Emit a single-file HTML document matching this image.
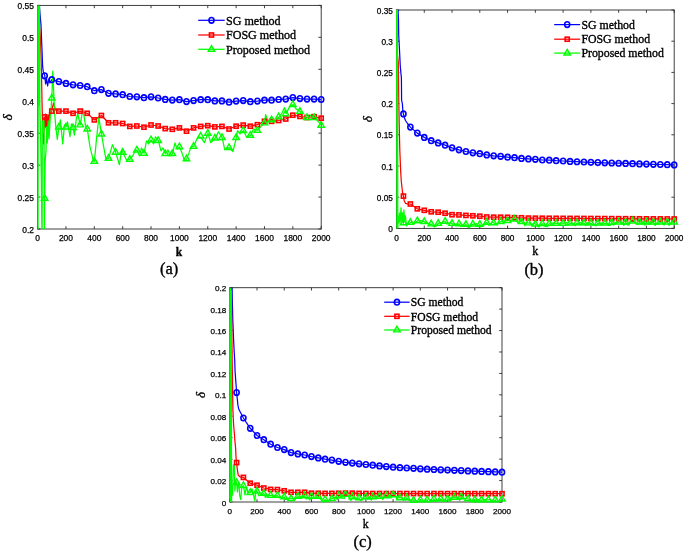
<!DOCTYPE html>
<html><head><meta charset="utf-8"><title>Figure</title>
<style>html,body{margin:0;padding:0;background:#fff;width:685px;height:553px;overflow:hidden}
svg{display:block;will-change:transform;font-family:"Liberation Sans",sans-serif}</style></head>
<body><svg width="685" height="553" viewBox="0 0 685 553"><defs><clipPath id="clipa"><rect x="37.1" y="5.4" width="284.6" height="223.6"/></clipPath><clipPath id="clipb"><rect x="396" y="10" width="278.7" height="218.4"/></clipPath><clipPath id="clipc"><rect x="229.3" y="287.7" width="273.2" height="214.3"/></clipPath></defs><rect width="100%" height="100%" fill="#fff"/><g><g fill="none" stroke="#2b2b2b" stroke-width="0.9"><rect x="37.6" y="5.4" width="283.6" height="223.6"/><path d="M37.6 229v-2.8M37.6 5.4v2.8M65.96 229v-2.8M65.96 5.4v2.8M94.32 229v-2.8M94.32 5.4v2.8M122.68 229v-2.8M122.68 5.4v2.8M151.04 229v-2.8M151.04 5.4v2.8M179.4 229v-2.8M179.4 5.4v2.8M207.76 229v-2.8M207.76 5.4v2.8M236.12 229v-2.8M236.12 5.4v2.8M264.48 229v-2.8M264.48 5.4v2.8M292.84 229v-2.8M292.84 5.4v2.8M321.2 229v-2.8M321.2 5.4v2.8M37.6 229h2.8M321.2 229h-2.8M37.6 197.06h2.8M321.2 197.06h-2.8M37.6 165.11h2.8M321.2 165.11h-2.8M37.6 133.17h2.8M321.2 133.17h-2.8M37.6 101.23h2.8M321.2 101.23h-2.8M37.6 69.29h2.8M321.2 69.29h-2.8M37.6 37.34h2.8M321.2 37.34h-2.8M37.6 5.4h2.8M321.2 5.4h-2.8"/></g>
<g clip-path="url(#clipa)" fill="none" stroke-width="1.25" stroke-linejoin="round">
<polyline stroke="#0000ff" points="39,0 40.1,15 41,25 41.5,38 42.2,55 42.6,66 43.3,72 44.7,75 45.6,84 46.6,79 47.6,86 48.8,79 50,83 51.78,79.7 58.87,81.6 65.96,83.4 73.05,84.8 80.14,85.5 87.23,86.7 94.32,90.7 101.41,89.6 108.5,93.3 115.59,93.9 122.68,94.7 129.77,96.5 136.86,96.8 143.95,97.7 151.04,96.8 158.13,98 165.22,99.4 172.31,100.1 179.4,99.7 186.49,101.6 193.58,100.6 200.67,99.7 207.76,99.7 214.85,100.9 221.94,100.9 229.03,102.2 236.12,101.1 243.21,100.6 250.3,101.7 257.39,101.1 264.48,100.2 271.57,100.2 278.66,99.5 285.75,99.1 292.84,97.6 299.93,98.6 307.02,99.1 314.11,99.1 321.2,99.5"/>
<polyline stroke="#ff0000" points="37.6,5.4 39,20 40.5,40 41.3,65 41.8,90 42.2,110 42.8,128 43.6,144 44.3,118 44.7,116.9 45.2,127 45.8,114 46.4,130 47,117 47.6,128 48.2,115 48.8,125 49.5,112 50.6,113 51.8,111.1 53.4,103 55.5,110 58.87,111.1 65.96,111.1 73.05,113.3 80.14,111.1 87.23,113.3 94.32,119.9 101.41,115.5 108.5,122.8 115.59,122.8 122.68,123.5 129.77,126.4 136.86,126 143.95,127.2 151.04,125 158.13,126 165.22,128.6 172.31,129.3 179.4,127.9 186.49,131.2 193.58,127.9 200.67,126.4 207.76,125.7 214.85,126.9 221.94,126.4 229.03,129 236.12,126.2 243.21,125.1 250.3,126.2 257.39,124.7 264.48,121.3 271.57,121.3 278.66,120.5 285.75,119 292.84,115.2 299.93,116.4 307.02,117.5 314.11,116.7 321.2,118.2"/>
<polyline stroke="#00ff00" points="37.8,0.9 38,250.9 38.4,0.9 38.9,104.9 39.4,0.9 39.8,104.9 40.6,135.9 41.4,180.9 42.1,250.9 42.3,120.9 43.2,132.9 44,120.9 44.4,250.9 44.7,198.4 45.2,160.9 46,150.9 46.6,126.9 47.3,142.9 48.2,120.9 49,138.9 50,121.9 51.8,98.1 52.8,71.1 54.6,112.9 56,128.9 57.3,139.3 58.9,127.2 60.4,119.9 62.7,144 64.5,124.9 66,127.1 67.5,121.9 70,136.6 71.5,123.9 73.1,127.7 74.4,135.2 76.3,118.9 77.8,113.5 80.2,125 82.9,108.8 85.9,128.4 87.3,129.1 90,146.9 93.4,160.9 94.4,161.4 96.5,138.9 98.8,117.7 101.5,134.1 103.5,145.9 105.9,158.9 108.6,158.3 112.4,144.7 115.7,152.4 119.4,164.7 121.8,149.4 122.8,152.4 126.5,160 129.9,159.4 133,155.3 135.5,150.4 137,150.1 139.5,155.9 141.5,147.9 144.1,153.3 146.5,140.9 148.5,143.9 151.2,139.9 153.5,143.9 155.5,136.9 158.3,140.6 161,150.9 163,147.9 165.4,153.7 168,149.9 170,155.9 172.5,153.7 175,142.9 177,148.9 179.6,146.9 182,152.9 184.5,160.9 186.7,158.9 189,152.9 191,146.9 193.8,146.4 196,140.9 198.5,136.9 200.9,137.4 204.4,142.7 208,133.3 210.8,142.7 215.1,138.2 218.5,131.9 222.2,137.6 224.7,149.6 229.3,147.7 232.9,151.5 236.4,137.6 237.5,130.6 240,133.9 243.5,130.6 246.5,136.9 250.6,135.4 253.5,128.9 257.7,130.3 260.5,126.9 264.8,123 265.6,114.5 268,121.9 271.9,119.9 275,121.9 279,116.9 281.5,113.9 284.5,107.6 286.1,113.8 289.5,106.9 293.2,104.6 296,108.9 300.3,111.5 303,118.9 307.4,117.6 310.5,114.9 314.5,117.6 317.5,120.9 321.6,125.3"/>
</g>
<g fill="none" stroke-width="1.6">
<g stroke="#0000ff"><ellipse cx="44.69" cy="75.8" rx="2.55" ry="2.8"/><ellipse cx="51.78" cy="79.7" rx="2.55" ry="2.8"/><ellipse cx="58.87" cy="81.6" rx="2.55" ry="2.8"/><ellipse cx="65.96" cy="83.4" rx="2.55" ry="2.8"/><ellipse cx="73.05" cy="84.8" rx="2.55" ry="2.8"/><ellipse cx="80.14" cy="85.5" rx="2.55" ry="2.8"/><ellipse cx="87.23" cy="86.7" rx="2.55" ry="2.8"/><ellipse cx="94.32" cy="90.7" rx="2.55" ry="2.8"/><ellipse cx="101.41" cy="89.6" rx="2.55" ry="2.8"/><ellipse cx="108.5" cy="93.3" rx="2.55" ry="2.8"/><ellipse cx="115.59" cy="93.9" rx="2.55" ry="2.8"/><ellipse cx="122.68" cy="94.7" rx="2.55" ry="2.8"/><ellipse cx="129.77" cy="96.5" rx="2.55" ry="2.8"/><ellipse cx="136.86" cy="96.8" rx="2.55" ry="2.8"/><ellipse cx="143.95" cy="97.7" rx="2.55" ry="2.8"/><ellipse cx="151.04" cy="96.8" rx="2.55" ry="2.8"/><ellipse cx="158.13" cy="98" rx="2.55" ry="2.8"/><ellipse cx="165.22" cy="99.4" rx="2.55" ry="2.8"/><ellipse cx="172.31" cy="100.1" rx="2.55" ry="2.8"/><ellipse cx="179.4" cy="99.7" rx="2.55" ry="2.8"/><ellipse cx="186.49" cy="101.6" rx="2.55" ry="2.8"/><ellipse cx="193.58" cy="100.6" rx="2.55" ry="2.8"/><ellipse cx="200.67" cy="99.7" rx="2.55" ry="2.8"/><ellipse cx="207.76" cy="99.7" rx="2.55" ry="2.8"/><ellipse cx="214.85" cy="100.9" rx="2.55" ry="2.8"/><ellipse cx="221.94" cy="100.9" rx="2.55" ry="2.8"/><ellipse cx="229.03" cy="102.2" rx="2.55" ry="2.8"/><ellipse cx="236.12" cy="101.1" rx="2.55" ry="2.8"/><ellipse cx="243.21" cy="100.6" rx="2.55" ry="2.8"/><ellipse cx="250.3" cy="101.7" rx="2.55" ry="2.8"/><ellipse cx="257.39" cy="101.1" rx="2.55" ry="2.8"/><ellipse cx="264.48" cy="100.2" rx="2.55" ry="2.8"/><ellipse cx="271.57" cy="100.2" rx="2.55" ry="2.8"/><ellipse cx="278.66" cy="99.5" rx="2.55" ry="2.8"/><ellipse cx="285.75" cy="99.1" rx="2.55" ry="2.8"/><ellipse cx="292.84" cy="97.6" rx="2.55" ry="2.8"/><ellipse cx="299.93" cy="98.6" rx="2.55" ry="2.8"/><ellipse cx="307.02" cy="99.1" rx="2.55" ry="2.8"/><ellipse cx="314.11" cy="99.1" rx="2.55" ry="2.8"/><ellipse cx="321.2" cy="99.5" rx="2.55" ry="2.8"/></g>
<g stroke="#ff0000"><rect x="42.64" y="114.85" width="4.1" height="4.1"/><rect x="49.73" y="109.05" width="4.1" height="4.1"/><rect x="56.82" y="109.05" width="4.1" height="4.1"/><rect x="63.91" y="109.05" width="4.1" height="4.1"/><rect x="71" y="111.25" width="4.1" height="4.1"/><rect x="78.09" y="109.05" width="4.1" height="4.1"/><rect x="85.18" y="111.25" width="4.1" height="4.1"/><rect x="92.27" y="117.85" width="4.1" height="4.1"/><rect x="99.36" y="113.45" width="4.1" height="4.1"/><rect x="106.45" y="120.75" width="4.1" height="4.1"/><rect x="113.54" y="120.75" width="4.1" height="4.1"/><rect x="120.63" y="121.45" width="4.1" height="4.1"/><rect x="127.72" y="124.35" width="4.1" height="4.1"/><rect x="134.81" y="123.95" width="4.1" height="4.1"/><rect x="141.9" y="125.15" width="4.1" height="4.1"/><rect x="148.99" y="122.95" width="4.1" height="4.1"/><rect x="156.08" y="123.95" width="4.1" height="4.1"/><rect x="163.17" y="126.55" width="4.1" height="4.1"/><rect x="170.26" y="127.25" width="4.1" height="4.1"/><rect x="177.35" y="125.85" width="4.1" height="4.1"/><rect x="184.44" y="129.15" width="4.1" height="4.1"/><rect x="191.53" y="125.85" width="4.1" height="4.1"/><rect x="198.62" y="124.35" width="4.1" height="4.1"/><rect x="205.71" y="123.65" width="4.1" height="4.1"/><rect x="212.8" y="124.85" width="4.1" height="4.1"/><rect x="219.89" y="124.35" width="4.1" height="4.1"/><rect x="226.98" y="126.95" width="4.1" height="4.1"/><rect x="234.07" y="124.15" width="4.1" height="4.1"/><rect x="241.16" y="123.05" width="4.1" height="4.1"/><rect x="248.25" y="124.15" width="4.1" height="4.1"/><rect x="255.34" y="122.65" width="4.1" height="4.1"/><rect x="262.43" y="119.25" width="4.1" height="4.1"/><rect x="269.52" y="119.25" width="4.1" height="4.1"/><rect x="276.61" y="118.45" width="4.1" height="4.1"/><rect x="283.7" y="116.95" width="4.1" height="4.1"/><rect x="290.79" y="113.15" width="4.1" height="4.1"/><rect x="297.88" y="114.35" width="4.1" height="4.1"/><rect x="304.97" y="115.45" width="4.1" height="4.1"/><rect x="312.06" y="114.65" width="4.1" height="4.1"/><rect x="319.15" y="116.15" width="4.1" height="4.1"/></g>
<g stroke="#00ff00" stroke-width="1.45"><path d="M44.69 194.7L47.89 200.25L41.49 200.25Z"/><path d="M51.78 94.4L54.98 99.95L48.58 99.95Z"/><path d="M58.87 123.5L62.07 129.05L55.67 129.05Z"/><path d="M65.96 123.4L69.16 128.95L62.76 128.95Z"/><path d="M73.05 124L76.25 129.55L69.85 129.55Z"/><path d="M80.14 121.3L83.34 126.85L76.94 126.85Z"/><path d="M87.23 125.4L90.43 130.95L84.03 130.95Z"/><path d="M94.32 157.7L97.52 163.25L91.12 163.25Z"/><path d="M101.41 130.4L104.61 135.95L98.21 135.95Z"/><path d="M108.5 154.6L111.7 160.15L105.3 160.15Z"/><path d="M115.59 148.7L118.79 154.25L112.39 154.25Z"/><path d="M122.68 148.7L125.88 154.25L119.48 154.25Z"/><path d="M129.77 155.7L132.97 161.25L126.57 161.25Z"/><path d="M136.86 146.4L140.06 151.95L133.66 151.95Z"/><path d="M143.95 149.6L147.15 155.15L140.75 155.15Z"/><path d="M151.04 136.2L154.24 141.75L147.84 141.75Z"/><path d="M158.13 136.9L161.33 142.45L154.93 142.45Z"/><path d="M165.22 150L168.42 155.55L162.02 155.55Z"/><path d="M172.31 150L175.51 155.55L169.11 155.55Z"/><path d="M179.4 143.2L182.6 148.75L176.2 148.75Z"/><path d="M186.49 155.2L189.69 160.75L183.29 160.75Z"/><path d="M193.58 142.7L196.78 148.25L190.38 148.25Z"/><path d="M200.67 132.5L203.87 138.05L197.47 138.05Z"/><path d="M207.76 129.6L210.96 135.15L204.56 135.15Z"/><path d="M214.85 134.5L218.05 140.05L211.65 140.05Z"/><path d="M221.94 133.9L225.14 139.45L218.74 139.45Z"/><path d="M229.03 144L232.23 149.55L225.83 149.55Z"/><path d="M236.12 133.9L239.32 139.45L232.92 139.45Z"/><path d="M243.21 126.9L246.41 132.45L240.01 132.45Z"/><path d="M250.3 131.7L253.5 137.25L247.1 137.25Z"/><path d="M257.39 126.6L260.59 132.15L254.19 132.15Z"/><path d="M264.48 119.3L267.68 124.85L261.28 124.85Z"/><path d="M271.57 116.2L274.77 121.75L268.37 121.75Z"/><path d="M278.66 113.2L281.86 118.75L275.46 118.75Z"/><path d="M285.75 110.1L288.95 115.65L282.55 115.65Z"/><path d="M292.84 100.9L296.04 106.45L289.64 106.45Z"/><path d="M299.93 107.8L303.13 113.35L296.73 113.35Z"/><path d="M307.02 113.9L310.22 119.45L303.82 119.45Z"/><path d="M314.11 113.9L317.31 119.45L310.91 119.45Z"/><path d="M321.2 121.6L324.4 127.15L318 127.15Z"/></g>
</g>
<g font-family="Liberation Sans" font-size="8.44" text-anchor="middle" fill="#000" stroke="#000" stroke-width="0.25"><text x="37.6" y="241.2">0</text><text x="65.96" y="241.2">200</text><text x="94.32" y="241.2">400</text><text x="122.68" y="241.2">600</text><text x="151.04" y="241.2">800</text><text x="179.4" y="241.2">1000</text><text x="207.76" y="241.2">1200</text><text x="236.12" y="241.2">1400</text><text x="264.48" y="241.2">1600</text><text x="292.84" y="241.2">1800</text><text x="321.2" y="241.2">2000</text></g>
<g font-family="Liberation Sans" font-size="8.44" text-anchor="end" fill="#000" stroke="#000" stroke-width="0.25"><text x="34" y="232.5">0.2</text><text x="34" y="200.56">0.25</text><text x="34" y="168.61">0.3</text><text x="34" y="136.67">0.35</text><text x="34" y="104.73">0.4</text><text x="34" y="72.79">0.45</text><text x="34" y="40.84">0.5</text><text x="34" y="8.9">0.55</text></g>
<line x1="198.2" y1="20.3" x2="224.66" y2="20.3" stroke="#0000ff" stroke-width="1.25"/><g fill="none" stroke="#0000ff" stroke-width="1.6"><ellipse cx="211.48" cy="20.3" rx="2.55" ry="2.8"/></g><text x="225.96" y="24.5" font-family="Liberation Serif" font-size="12.08" fill="#000" stroke="#000" stroke-width="0.35">SG method</text><line x1="198.2" y1="35" x2="224.66" y2="35" stroke="#ff0000" stroke-width="1.25"/><g fill="none" stroke="#ff0000" stroke-width="1.6"><rect x="209.43" y="32.95" width="4.1" height="4.1"/></g><text x="225.96" y="39.2" font-family="Liberation Serif" font-size="12.08" fill="#000" stroke="#000" stroke-width="0.35">FOSG method</text><line x1="198.2" y1="49.3" x2="224.66" y2="49.3" stroke="#00ff00" stroke-width="1.25"/><g fill="none" stroke="#00ff00" stroke-width="1.45"><path d="M211.48 45.6L214.68 51.15L208.28 51.15Z"/></g><text x="225.96" y="53.5" font-family="Liberation Serif" font-size="12.08" fill="#000" stroke="#000" stroke-width="0.35">Proposed method</text>
<text x="179" y="255.5" font-family="Liberation Serif" font-size="11.48" font-weight="bold" text-anchor="middle" fill="#000" stroke="#000" stroke-width="0.35">k</text>
<text transform="translate(7.2 117.3) rotate(-90)" font-family="Liberation Serif" font-style="italic" font-size="13.48" text-anchor="middle" fill="#000" stroke="#000" stroke-width="0.35" y="4.5">&#948;</text>
<text x="169.2" y="274.2" font-family="Liberation Serif" font-size="16.5" text-anchor="middle" fill="#000" stroke="#000" stroke-width="0.35">(a)</text></g>
<g><g fill="none" stroke="#2b2b2b" stroke-width="0.9"><rect x="396.5" y="10" width="277.7" height="218.4"/><path d="M396.5 228.4v-2.8M396.5 10v2.8M424.27 228.4v-2.8M424.27 10v2.8M452.04 228.4v-2.8M452.04 10v2.8M479.81 228.4v-2.8M479.81 10v2.8M507.58 228.4v-2.8M507.58 10v2.8M535.35 228.4v-2.8M535.35 10v2.8M563.12 228.4v-2.8M563.12 10v2.8M590.89 228.4v-2.8M590.89 10v2.8M618.66 228.4v-2.8M618.66 10v2.8M646.43 228.4v-2.8M646.43 10v2.8M674.2 228.4v-2.8M674.2 10v2.8M396.5 228.4h2.8M674.2 228.4h-2.8M396.5 197.2h2.8M674.2 197.2h-2.8M396.5 166h2.8M674.2 166h-2.8M396.5 134.8h2.8M674.2 134.8h-2.8M396.5 103.6h2.8M674.2 103.6h-2.8M396.5 72.4h2.8M674.2 72.4h-2.8M396.5 41.2h2.8M674.2 41.2h-2.8M396.5 10h2.8M674.2 10h-2.8"/></g>
<g clip-path="url(#clipb)" fill="none" stroke-width="1.25" stroke-linejoin="round">
<polyline stroke="#0000ff" points="397.6,0 398.5,20 398.7,35 399.5,50 400.2,65 400.8,72 401.4,78 401.6,100 402.4,104 402.8,110 403.4,113.9 404.5,118 405.5,120.5 407.5,123.5 410.38,127.1 417.33,133.1 424.27,137.4 431.21,140.7 438.16,142.9 445.1,145.2 452.04,147.8 458.98,149.8 465.93,151.5 472.87,152.8 479.81,153.7 486.75,154.9 493.7,155.8 500.64,156.3 507.58,157.2 514.52,157.7 521.47,158.4 528.41,158.9 535.35,159.3 542.29,160 549.24,160.2 556.18,160.7 563.12,161 570.06,161.42 577,161.74 583.95,162.02 590.89,162.29 597.83,162.54 604.78,162.78 611.72,163.01 618.66,163.24 625.6,163.46 632.55,163.68 639.49,163.89 646.43,164.1 653.37,164.3 660.32,164.5 667.26,164.7 674.2,164.9"/>
<polyline stroke="#ff0000" points="396.6,0 396.8,50 398.3,62 398.7,95 399.2,125 399.8,150 400.6,170 401.3,181.5 402.5,192 403.4,196.1 404.3,201 405.5,203.3 407.5,203.8 410.38,204 417.33,208.8 424.27,210.3 431.21,211.8 438.16,212.2 445.1,213.2 452.04,214.7 458.98,214.9 465.93,215.4 472.87,215.8 479.81,216.2 486.75,217 493.7,217.2 500.64,217.2 507.58,217.3 514.52,217.7 521.47,217.8 528.41,218.1 535.35,218.2 542.29,218.24 549.24,218.28 556.18,218.32 563.12,218.36 570.06,218.4 577,218.44 583.95,218.48 590.89,218.52 597.83,218.56 604.78,218.6 611.72,218.64 618.66,218.68 625.6,218.72 632.55,218.76 639.49,218.8 646.43,218.84 653.37,218.88 660.32,218.92 667.26,218.96 674.2,219"/>
<polyline stroke="#00ff00" points="396.7,0.9 396.9,229.3 397.4,5.9 397.8,229.3 398.3,215.9 398.9,222.9 399.5,212.9 400.2,221.9 401,207.9 401.8,222.9 402.6,212.9 403.4,223.4 403.9,209.9 404.6,219.9 405.4,215.9 406.5,225.9 408,223.9 410.3,222.9 410.38,222.5 411.84,222.66 413.51,223.63 415.48,222.75 417.33,220.9 419.07,220.54 420.75,220.66 422.21,220.99 424.27,221.7 426.27,223.26 427.52,222.57 429.84,225.26 431.21,224 432.87,225.45 434.32,226.95 436.25,226.28 438.16,223.3 439.58,222.63 441.88,222.85 443.43,221.83 445.1,221.4 446.73,223.81 448.22,223.95 450.07,222.43 452.04,223.5 453.72,225.63 455.58,224.17 457.09,224.83 458.98,223.8 460.88,226.51 462.51,224.38 464.49,225.73 465.93,224.5 467.49,226.69 469.09,227.67 471.34,225.23 472.87,224.2 474.59,224.06 476.47,223.61 478.13,226.69 479.81,224.3 481.4,226.73 483.36,225.52 484.98,224.59 486.75,222.5 488.84,225.3 490.36,223.84 492.12,222.18 493.7,222.8 495.83,224.44 496.99,224.9 499.04,222.8 500.64,221.7 502.34,220.74 503.8,221.11 506.06,220.4 507.58,220.7 509.11,220.07 511.35,220.79 512.75,219.11 514.52,219.2 516.56,221.33 518.28,223.09 519.66,221.44 521.47,221.7 523.51,222.73 524.66,225.57 526.46,222.62 528.41,223 530.13,223.46 531.69,225.22 533.55,223.04 535.35,224.1 537.14,224.75 538.97,227.1 540.65,225.17 542.29,223.7 543.67,225.69 545.99,226.58 547.74,226.42 549.24,223.5 550.89,224.3 552.81,223.03 554.1,222.81 556.18,223.3 557.64,223.38 559.29,223.93 561.11,222.5 563.12,223.3 564.75,222.88 566.89,222.51 568.05,224.93 570.06,223.1 571.68,223.31 573.23,223.73 575.66,225.72 577,222.9 578.73,224.06 580.16,222.46 582.02,223.54 583.95,222.9 585.41,225.63 587.78,222.3 588.87,224.47 590.89,223.1 592.25,224.58 594.74,224.52 596.25,225.93 597.83,223.1 599.46,223.4 601.52,223 603.26,224.54 604.78,223.1 606.29,223.53 608.63,225.41 610.23,225.43 611.72,222.5 613.65,225.06 615.2,222.5 616.55,222.97 618.66,222.2 620.22,221.52 622.29,222.49 623.82,225.42 625.6,222.2 627.73,225.06 628.97,224.86 630.59,221.5 632.55,221.1 634.04,221.38 636.34,223.42 637.74,224.58 639.49,222.1 641.46,224.04 643.09,221.66 644.92,225.12 646.43,222.1 648.15,224.48 650.13,222.1 651.88,222.77 653.37,222.2 655.02,225.46 657.2,223.04 658.32,224.37 660.32,222.1 661.77,221.83 664.03,225.1 665.78,221.91 667.26,222.1 669.12,225.44 670.77,222.82 672.08,221.93 674.2,222.2"/>
</g>
<g fill="none" stroke-width="1.6">
<g stroke="#0000ff"><ellipse cx="403.44" cy="113.9" rx="2.55" ry="2.8"/><ellipse cx="410.38" cy="127.1" rx="2.55" ry="2.8"/><ellipse cx="417.33" cy="133.1" rx="2.55" ry="2.8"/><ellipse cx="424.27" cy="137.4" rx="2.55" ry="2.8"/><ellipse cx="431.21" cy="140.7" rx="2.55" ry="2.8"/><ellipse cx="438.16" cy="142.9" rx="2.55" ry="2.8"/><ellipse cx="445.1" cy="145.2" rx="2.55" ry="2.8"/><ellipse cx="452.04" cy="147.8" rx="2.55" ry="2.8"/><ellipse cx="458.98" cy="149.8" rx="2.55" ry="2.8"/><ellipse cx="465.93" cy="151.5" rx="2.55" ry="2.8"/><ellipse cx="472.87" cy="152.8" rx="2.55" ry="2.8"/><ellipse cx="479.81" cy="153.7" rx="2.55" ry="2.8"/><ellipse cx="486.75" cy="154.9" rx="2.55" ry="2.8"/><ellipse cx="493.7" cy="155.8" rx="2.55" ry="2.8"/><ellipse cx="500.64" cy="156.3" rx="2.55" ry="2.8"/><ellipse cx="507.58" cy="157.2" rx="2.55" ry="2.8"/><ellipse cx="514.52" cy="157.7" rx="2.55" ry="2.8"/><ellipse cx="521.47" cy="158.4" rx="2.55" ry="2.8"/><ellipse cx="528.41" cy="158.9" rx="2.55" ry="2.8"/><ellipse cx="535.35" cy="159.3" rx="2.55" ry="2.8"/><ellipse cx="542.29" cy="160" rx="2.55" ry="2.8"/><ellipse cx="549.24" cy="160.2" rx="2.55" ry="2.8"/><ellipse cx="556.18" cy="160.7" rx="2.55" ry="2.8"/><ellipse cx="563.12" cy="161" rx="2.55" ry="2.8"/><ellipse cx="570.06" cy="161.42" rx="2.55" ry="2.8"/><ellipse cx="577" cy="161.74" rx="2.55" ry="2.8"/><ellipse cx="583.95" cy="162.02" rx="2.55" ry="2.8"/><ellipse cx="590.89" cy="162.29" rx="2.55" ry="2.8"/><ellipse cx="597.83" cy="162.54" rx="2.55" ry="2.8"/><ellipse cx="604.78" cy="162.78" rx="2.55" ry="2.8"/><ellipse cx="611.72" cy="163.01" rx="2.55" ry="2.8"/><ellipse cx="618.66" cy="163.24" rx="2.55" ry="2.8"/><ellipse cx="625.6" cy="163.46" rx="2.55" ry="2.8"/><ellipse cx="632.55" cy="163.68" rx="2.55" ry="2.8"/><ellipse cx="639.49" cy="163.89" rx="2.55" ry="2.8"/><ellipse cx="646.43" cy="164.1" rx="2.55" ry="2.8"/><ellipse cx="653.37" cy="164.3" rx="2.55" ry="2.8"/><ellipse cx="660.32" cy="164.5" rx="2.55" ry="2.8"/><ellipse cx="667.26" cy="164.7" rx="2.55" ry="2.8"/><ellipse cx="674.2" cy="164.9" rx="2.55" ry="2.8"/></g>
<g stroke="#ff0000"><rect x="401.39" y="194.05" width="4.1" height="4.1"/><rect x="408.33" y="201.95" width="4.1" height="4.1"/><rect x="415.28" y="206.75" width="4.1" height="4.1"/><rect x="422.22" y="208.25" width="4.1" height="4.1"/><rect x="429.16" y="209.75" width="4.1" height="4.1"/><rect x="436.11" y="210.15" width="4.1" height="4.1"/><rect x="443.05" y="211.15" width="4.1" height="4.1"/><rect x="449.99" y="212.65" width="4.1" height="4.1"/><rect x="456.93" y="212.85" width="4.1" height="4.1"/><rect x="463.88" y="213.35" width="4.1" height="4.1"/><rect x="470.82" y="213.75" width="4.1" height="4.1"/><rect x="477.76" y="214.15" width="4.1" height="4.1"/><rect x="484.7" y="214.95" width="4.1" height="4.1"/><rect x="491.65" y="215.15" width="4.1" height="4.1"/><rect x="498.59" y="215.15" width="4.1" height="4.1"/><rect x="505.53" y="215.25" width="4.1" height="4.1"/><rect x="512.47" y="215.65" width="4.1" height="4.1"/><rect x="519.42" y="215.75" width="4.1" height="4.1"/><rect x="526.36" y="216.05" width="4.1" height="4.1"/><rect x="533.3" y="216.15" width="4.1" height="4.1"/><rect x="540.24" y="216.19" width="4.1" height="4.1"/><rect x="547.19" y="216.23" width="4.1" height="4.1"/><rect x="554.13" y="216.27" width="4.1" height="4.1"/><rect x="561.07" y="216.31" width="4.1" height="4.1"/><rect x="568.01" y="216.35" width="4.1" height="4.1"/><rect x="574.96" y="216.39" width="4.1" height="4.1"/><rect x="581.9" y="216.43" width="4.1" height="4.1"/><rect x="588.84" y="216.47" width="4.1" height="4.1"/><rect x="595.78" y="216.51" width="4.1" height="4.1"/><rect x="602.73" y="216.55" width="4.1" height="4.1"/><rect x="609.67" y="216.59" width="4.1" height="4.1"/><rect x="616.61" y="216.63" width="4.1" height="4.1"/><rect x="623.55" y="216.67" width="4.1" height="4.1"/><rect x="630.5" y="216.71" width="4.1" height="4.1"/><rect x="637.44" y="216.75" width="4.1" height="4.1"/><rect x="644.38" y="216.79" width="4.1" height="4.1"/><rect x="651.32" y="216.83" width="4.1" height="4.1"/><rect x="658.27" y="216.87" width="4.1" height="4.1"/><rect x="665.21" y="216.91" width="4.1" height="4.1"/><rect x="672.15" y="216.95" width="4.1" height="4.1"/></g>
<g stroke="#00ff00" stroke-width="1.45"><path d="M403.44 219.2L406.64 224.75L400.24 224.75Z"/><path d="M410.38 218.8L413.58 224.35L407.19 224.35Z"/><path d="M417.33 217.2L420.53 222.75L414.13 222.75Z"/><path d="M424.27 218L427.47 223.55L421.07 223.55Z"/><path d="M431.21 220.3L434.41 225.85L428.01 225.85Z"/><path d="M438.16 219.6L441.36 225.15L434.96 225.15Z"/><path d="M445.1 217.7L448.3 223.25L441.9 223.25Z"/><path d="M452.04 219.8L455.24 225.35L448.84 225.35Z"/><path d="M458.98 220.1L462.18 225.65L455.78 225.65Z"/><path d="M465.93 220.8L469.12 226.35L462.73 226.35Z"/><path d="M472.87 220.5L476.07 226.05L469.67 226.05Z"/><path d="M479.81 220.6L483.01 226.15L476.61 226.15Z"/><path d="M486.75 218.8L489.95 224.35L483.55 224.35Z"/><path d="M493.7 219.1L496.9 224.65L490.5 224.65Z"/><path d="M500.64 218L503.84 223.55L497.44 223.55Z"/><path d="M507.58 217L510.78 222.55L504.38 222.55Z"/><path d="M514.52 215.5L517.72 221.05L511.32 221.05Z"/><path d="M521.47 218L524.67 223.55L518.26 223.55Z"/><path d="M528.41 219.3L531.61 224.85L525.21 224.85Z"/><path d="M535.35 220.4L538.55 225.95L532.15 225.95Z"/><path d="M542.29 220L545.49 225.55L539.09 225.55Z"/><path d="M549.24 219.8L552.44 225.35L546.03 225.35Z"/><path d="M556.18 219.6L559.38 225.15L552.98 225.15Z"/><path d="M563.12 219.6L566.32 225.15L559.92 225.15Z"/><path d="M570.06 219.4L573.26 224.95L566.86 224.95Z"/><path d="M577 219.2L580.21 224.75L573.8 224.75Z"/><path d="M583.95 219.2L587.15 224.75L580.75 224.75Z"/><path d="M590.89 219.4L594.09 224.95L587.69 224.95Z"/><path d="M597.83 219.4L601.03 224.95L594.63 224.95Z"/><path d="M604.78 219.4L607.98 224.95L601.58 224.95Z"/><path d="M611.72 218.8L614.92 224.35L608.52 224.35Z"/><path d="M618.66 218.5L621.86 224.05L615.46 224.05Z"/><path d="M625.6 218.5L628.8 224.05L622.4 224.05Z"/><path d="M632.55 217.4L635.75 222.95L629.35 222.95Z"/><path d="M639.49 218.4L642.69 223.95L636.29 223.95Z"/><path d="M646.43 218.4L649.63 223.95L643.23 223.95Z"/><path d="M653.37 218.5L656.57 224.05L650.17 224.05Z"/><path d="M660.32 218.4L663.52 223.95L657.12 223.95Z"/><path d="M667.26 218.4L670.46 223.95L664.06 223.95Z"/><path d="M674.2 218.5L677.4 224.05L671 224.05Z"/></g>
</g>
<g font-family="Liberation Sans" font-size="8.26" text-anchor="middle" fill="#000" stroke="#000" stroke-width="0.25"><text x="396.5" y="241.3">0</text><text x="424.27" y="241.3">200</text><text x="452.04" y="241.3">400</text><text x="479.81" y="241.3">600</text><text x="507.58" y="241.3">800</text><text x="535.35" y="241.3">1000</text><text x="563.12" y="241.3">1200</text><text x="590.89" y="241.3">1400</text><text x="618.66" y="241.3">1600</text><text x="646.43" y="241.3">1800</text><text x="674.2" y="241.3">2000</text></g>
<g font-family="Liberation Sans" font-size="8.26" text-anchor="end" fill="#000" stroke="#000" stroke-width="0.25"><text x="392.9" y="231.9">0</text><text x="392.9" y="200.7">0.05</text><text x="392.9" y="169.5">0.1</text><text x="392.9" y="138.3">0.15</text><text x="392.9" y="107.1">0.2</text><text x="392.9" y="75.9">0.25</text><text x="392.9" y="44.7">0.3</text><text x="392.9" y="13.5">0.35</text></g>
<line x1="554.2" y1="24.6" x2="580.11" y2="24.6" stroke="#0000ff" stroke-width="1.25"/><g fill="none" stroke="#0000ff" stroke-width="1.6"><ellipse cx="567.2" cy="24.6" rx="2.55" ry="2.8"/></g><text x="581.38" y="28.8" font-family="Liberation Serif" font-size="11.83" fill="#000" stroke="#000" stroke-width="0.35">SG method</text><line x1="554.2" y1="39.2" x2="580.11" y2="39.2" stroke="#ff0000" stroke-width="1.25"/><g fill="none" stroke="#ff0000" stroke-width="1.6"><rect x="565.15" y="37.15" width="4.1" height="4.1"/></g><text x="581.38" y="43.4" font-family="Liberation Serif" font-size="11.83" fill="#000" stroke="#000" stroke-width="0.35">FOSG method</text><line x1="554.2" y1="53.1" x2="580.11" y2="53.1" stroke="#00ff00" stroke-width="1.25"/><g fill="none" stroke="#00ff00" stroke-width="1.45"><path d="M567.2 49.4L570.4 54.95L564 54.95Z"/></g><text x="581.38" y="57.3" font-family="Liberation Serif" font-size="11.83" fill="#000" stroke="#000" stroke-width="0.35">Proposed method</text>
<text x="535.2" y="254.8" font-family="Liberation Serif" font-size="12.03"  text-anchor="middle" fill="#000" stroke="#000" stroke-width="0.35">k</text>
<text transform="translate(367.2 119.3) rotate(-90)" font-family="Liberation Serif" font-style="italic" font-size="13.2" text-anchor="middle" fill="#000" stroke="#000" stroke-width="0.35" y="4.5">&#948;</text>
<text x="534" y="274.5" font-family="Liberation Serif" font-size="16.5" text-anchor="middle" fill="#000" stroke="#000" stroke-width="0.35">(b)</text></g>
<g><g fill="none" stroke="#2b2b2b" stroke-width="0.9"><rect x="229.8" y="287.7" width="272.2" height="214.3"/><path d="M229.8 502v-2.8M229.8 287.7v2.8M257.02 502v-2.8M257.02 287.7v2.8M284.24 502v-2.8M284.24 287.7v2.8M311.46 502v-2.8M311.46 287.7v2.8M338.68 502v-2.8M338.68 287.7v2.8M365.9 502v-2.8M365.9 287.7v2.8M393.12 502v-2.8M393.12 287.7v2.8M420.34 502v-2.8M420.34 287.7v2.8M447.56 502v-2.8M447.56 287.7v2.8M474.78 502v-2.8M474.78 287.7v2.8M502 502v-2.8M502 287.7v2.8M229.8 502h2.8M502 502h-2.8M229.8 480.57h2.8M502 480.57h-2.8M229.8 459.14h2.8M502 459.14h-2.8M229.8 437.71h2.8M502 437.71h-2.8M229.8 416.28h2.8M502 416.28h-2.8M229.8 394.85h2.8M502 394.85h-2.8M229.8 373.42h2.8M502 373.42h-2.8M229.8 351.99h2.8M502 351.99h-2.8M229.8 330.56h2.8M502 330.56h-2.8M229.8 309.13h2.8M502 309.13h-2.8M229.8 287.7h2.8M502 287.7h-2.8"/></g>
<g clip-path="url(#clipc)" fill="none" stroke-width="1.25" stroke-linejoin="round">
<polyline stroke="#0000ff" points="232,280 232.3,300 232.8,320 233.6,340 234.2,352 234.7,360 235.1,372 235.7,380 236.3,388 236.6,392.6 237.4,400 237.9,405 238.7,409 240.5,412.5 243.4,418 250.22,428.3 257.02,435.5 263.82,439.7 270.63,444.2 277.44,447.5 284.24,449.6 291.05,452.6 297.85,453.9 304.66,455 311.46,456.6 318.26,457.9 325.07,459.2 331.88,460.1 338.68,461.3 345.49,462.3 352.29,463.1 359.1,463.8 365.9,464.5 372.71,465.2 379.51,465.9 386.31,466.6 393.12,467.2 399.93,467.7 406.73,468 413.54,468.3 420.34,468.8 427.14,469.16 433.95,469.48 440.75,469.78 447.56,470.06 454.37,470.35 461.17,470.62 467.98,470.89 474.78,471.16 481.59,471.42 488.39,471.69 495.19,471.94 502,472.2"/>
<polyline stroke="#ff0000" points="231.3,280 231.6,310 231.9,340 232.3,370 232.6,390 232.9,410 233.6,425 234.4,434 234.8,440 235.6,448 235.9,455 236.2,460 236.6,462.6 237.4,470 238.3,475.3 240,476.8 243.41,477.4 250.22,483.2 257.02,485.2 263.82,488 270.63,489.4 277.44,489.6 284.24,490.8 291.05,492.3 297.85,492.3 304.66,492.3 311.46,493.2 318.26,493.3 325.07,493.4 331.88,493.4 338.68,493.3 345.49,493.1 352.29,493.2 359.1,493.4 365.9,493.5 372.71,493.51 379.51,493.52 386.31,493.53 393.12,493.54 399.93,493.55 406.73,493.56 413.54,493.57 420.34,493.58 427.14,493.59 433.95,493.6 440.75,493.61 447.56,493.62 454.37,493.63 461.17,493.64 467.98,493.65 474.78,493.66 481.59,493.67 488.39,493.68 495.19,493.69 502,493.7"/>
<polyline stroke="#00ff00" points="229.9,280.9 230.1,502.9 230.6,280.9 230.9,502.9 231.3,290.9 231.5,502.9 232,485.9 232.6,494.9 233.4,464.9 234.3,465.4 234.9,490.9 235.6,480.9 236.6,482.6 237.4,491.9 238.3,483.9 238.9,481.9 239.6,494.9 240.7,499.7 241.8,486.9 243.4,485.6 245,494.9 246.5,486.9 248,492.9 250.2,492.6 252,488.9 253.5,494.9 254.8,500.9 256,489.9 257,491.2 258.84,495.84 260.77,494.32 262.42,494.46 263.82,493.5 265.3,497.33 267.06,495.08 269,495.48 270.63,495.3 272.27,496.02 274.36,495.42 275.7,496.46 277.44,495.3 279.46,497.97 281.17,497.63 282.56,498.43 284.24,497 285.56,499.36 287.39,499.37 289.58,497.72 291.05,498.6 292.73,498.34 294.49,500.36 296.16,497.91 297.85,496.3 299.78,498.29 301.3,496.05 302.78,496.59 304.66,495.8 306.36,499.05 308.27,498.19 309.71,499.96 311.46,496.3 313.17,498.68 315.02,498.21 316.59,497.93 318.26,496.3 320.32,498.87 321.97,500.74 323.18,502.7 325.07,499.6 327.13,501.48 328.18,502.55 330.13,498.92 331.88,498.6 333.37,497.77 335.41,497.09 337.3,499.76 338.68,495.9 340.55,495.78 341.8,497.8 344.16,498.5 345.49,494.5 347.55,495.63 348.88,497.07 350.85,500.45 352.29,496.9 353.94,497.41 355.56,499.32 357.25,498.07 359.1,497.9 360.41,500.54 362.45,499.5 364.06,496.73 365.9,496.9 367.61,499.33 369.69,496.7 371.38,500.11 372.71,496.9 374.22,496.77 376.33,496.34 377.51,497.3 379.51,496.4 381.54,497.76 382.72,499.5 384.95,496.23 386.31,495.9 388.18,497.83 389.36,495.32 391.36,497.88 393.12,494.9 395.17,495.49 396.76,498.88 398.51,497.04 399.93,497.9 401.92,497.71 403.2,499.53 405.37,500 406.73,497.9 408.13,499.28 409.92,501.13 411.56,499.79 413.54,500.4 415,500.01 416.78,501.12 418.47,502.9 420.34,499.9 421.78,501.75 423.36,501.03 425.06,500.58 427.14,499.9 428.89,502.6 430.53,499.79 431.93,502.9 433.95,498.9 435.6,502.25 437.62,500.73 439.06,500.25 440.75,498.9 442.84,501.66 444.42,500.06 445.97,501.8 447.56,499 449.14,500 450.67,497.96 452.86,497.63 454.37,497.4 455.8,497.98 458.04,497.05 459.61,500.62 461.17,496.9 462.67,498.2 464.54,498.73 466.23,498.57 467.98,498.8 470.05,499.79 471.42,502.9 473.45,500.2 474.78,499.8 476.37,500.75 478.09,499.31 479.89,501.53 481.59,499.8 483.29,500.24 484.8,499.32 486.61,499.72 488.39,499.8 489.71,499.5 491.58,500.73 493.52,502.05 495.19,499.8 497.02,502.68 498.9,502.37 500.16,500.68 502,499.2"/>
</g>
<g fill="none" stroke-width="1.6">
<g stroke="#0000ff"><ellipse cx="236.61" cy="392.6" rx="2.55" ry="2.8"/><ellipse cx="243.41" cy="418" rx="2.55" ry="2.8"/><ellipse cx="250.22" cy="428.3" rx="2.55" ry="2.8"/><ellipse cx="257.02" cy="435.5" rx="2.55" ry="2.8"/><ellipse cx="263.82" cy="439.7" rx="2.55" ry="2.8"/><ellipse cx="270.63" cy="444.2" rx="2.55" ry="2.8"/><ellipse cx="277.44" cy="447.5" rx="2.55" ry="2.8"/><ellipse cx="284.24" cy="449.6" rx="2.55" ry="2.8"/><ellipse cx="291.05" cy="452.6" rx="2.55" ry="2.8"/><ellipse cx="297.85" cy="453.9" rx="2.55" ry="2.8"/><ellipse cx="304.66" cy="455" rx="2.55" ry="2.8"/><ellipse cx="311.46" cy="456.6" rx="2.55" ry="2.8"/><ellipse cx="318.26" cy="457.9" rx="2.55" ry="2.8"/><ellipse cx="325.07" cy="459.2" rx="2.55" ry="2.8"/><ellipse cx="331.88" cy="460.1" rx="2.55" ry="2.8"/><ellipse cx="338.68" cy="461.3" rx="2.55" ry="2.8"/><ellipse cx="345.49" cy="462.3" rx="2.55" ry="2.8"/><ellipse cx="352.29" cy="463.1" rx="2.55" ry="2.8"/><ellipse cx="359.1" cy="463.8" rx="2.55" ry="2.8"/><ellipse cx="365.9" cy="464.5" rx="2.55" ry="2.8"/><ellipse cx="372.71" cy="465.2" rx="2.55" ry="2.8"/><ellipse cx="379.51" cy="465.9" rx="2.55" ry="2.8"/><ellipse cx="386.31" cy="466.6" rx="2.55" ry="2.8"/><ellipse cx="393.12" cy="467.2" rx="2.55" ry="2.8"/><ellipse cx="399.93" cy="467.7" rx="2.55" ry="2.8"/><ellipse cx="406.73" cy="468" rx="2.55" ry="2.8"/><ellipse cx="413.54" cy="468.3" rx="2.55" ry="2.8"/><ellipse cx="420.34" cy="468.8" rx="2.55" ry="2.8"/><ellipse cx="427.14" cy="469.16" rx="2.55" ry="2.8"/><ellipse cx="433.95" cy="469.48" rx="2.55" ry="2.8"/><ellipse cx="440.75" cy="469.78" rx="2.55" ry="2.8"/><ellipse cx="447.56" cy="470.06" rx="2.55" ry="2.8"/><ellipse cx="454.37" cy="470.35" rx="2.55" ry="2.8"/><ellipse cx="461.17" cy="470.62" rx="2.55" ry="2.8"/><ellipse cx="467.98" cy="470.89" rx="2.55" ry="2.8"/><ellipse cx="474.78" cy="471.16" rx="2.55" ry="2.8"/><ellipse cx="481.59" cy="471.42" rx="2.55" ry="2.8"/><ellipse cx="488.39" cy="471.69" rx="2.55" ry="2.8"/><ellipse cx="495.19" cy="471.94" rx="2.55" ry="2.8"/><ellipse cx="502" cy="472.2" rx="2.55" ry="2.8"/></g>
<g stroke="#ff0000"><rect x="234.56" y="460.55" width="4.1" height="4.1"/><rect x="241.36" y="475.35" width="4.1" height="4.1"/><rect x="248.16" y="481.15" width="4.1" height="4.1"/><rect x="254.97" y="483.15" width="4.1" height="4.1"/><rect x="261.77" y="485.95" width="4.1" height="4.1"/><rect x="268.58" y="487.35" width="4.1" height="4.1"/><rect x="275.38" y="487.55" width="4.1" height="4.1"/><rect x="282.19" y="488.75" width="4.1" height="4.1"/><rect x="289" y="490.25" width="4.1" height="4.1"/><rect x="295.8" y="490.25" width="4.1" height="4.1"/><rect x="302.61" y="490.25" width="4.1" height="4.1"/><rect x="309.41" y="491.15" width="4.1" height="4.1"/><rect x="316.21" y="491.25" width="4.1" height="4.1"/><rect x="323.02" y="491.35" width="4.1" height="4.1"/><rect x="329.82" y="491.35" width="4.1" height="4.1"/><rect x="336.63" y="491.25" width="4.1" height="4.1"/><rect x="343.44" y="491.05" width="4.1" height="4.1"/><rect x="350.24" y="491.15" width="4.1" height="4.1"/><rect x="357.05" y="491.35" width="4.1" height="4.1"/><rect x="363.85" y="491.45" width="4.1" height="4.1"/><rect x="370.66" y="491.46" width="4.1" height="4.1"/><rect x="377.46" y="491.47" width="4.1" height="4.1"/><rect x="384.26" y="491.48" width="4.1" height="4.1"/><rect x="391.07" y="491.49" width="4.1" height="4.1"/><rect x="397.88" y="491.5" width="4.1" height="4.1"/><rect x="404.68" y="491.51" width="4.1" height="4.1"/><rect x="411.49" y="491.52" width="4.1" height="4.1"/><rect x="418.29" y="491.53" width="4.1" height="4.1"/><rect x="425.09" y="491.54" width="4.1" height="4.1"/><rect x="431.9" y="491.55" width="4.1" height="4.1"/><rect x="438.7" y="491.56" width="4.1" height="4.1"/><rect x="445.51" y="491.57" width="4.1" height="4.1"/><rect x="452.31" y="491.58" width="4.1" height="4.1"/><rect x="459.12" y="491.59" width="4.1" height="4.1"/><rect x="465.93" y="491.6" width="4.1" height="4.1"/><rect x="472.73" y="491.61" width="4.1" height="4.1"/><rect x="479.54" y="491.62" width="4.1" height="4.1"/><rect x="486.34" y="491.63" width="4.1" height="4.1"/><rect x="493.14" y="491.64" width="4.1" height="4.1"/><rect x="499.95" y="491.65" width="4.1" height="4.1"/></g>
<g stroke="#00ff00" stroke-width="1.45"><path d="M236.61 478.9L239.81 484.45L233.41 484.45Z"/><path d="M243.41 481.9L246.61 487.45L240.21 487.45Z"/><path d="M250.22 488.9L253.41 494.45L247.02 494.45Z"/><path d="M257.02 487.5L260.22 493.05L253.82 493.05Z"/><path d="M263.82 489.8L267.02 495.35L260.62 495.35Z"/><path d="M270.63 491.6L273.83 497.15L267.43 497.15Z"/><path d="M277.44 491.6L280.63 497.15L274.24 497.15Z"/><path d="M284.24 493.3L287.44 498.85L281.04 498.85Z"/><path d="M291.05 494.9L294.25 500.45L287.85 500.45Z"/><path d="M297.85 492.6L301.05 498.15L294.65 498.15Z"/><path d="M304.66 492.1L307.86 497.65L301.46 497.65Z"/><path d="M311.46 492.6L314.66 498.15L308.26 498.15Z"/><path d="M318.26 492.6L321.46 498.15L315.06 498.15Z"/><path d="M325.07 495.9L328.27 501.45L321.87 501.45Z"/><path d="M331.88 494.9L335.07 500.45L328.68 500.45Z"/><path d="M338.68 492.2L341.88 497.75L335.48 497.75Z"/><path d="M345.49 490.8L348.69 496.35L342.29 496.35Z"/><path d="M352.29 493.2L355.49 498.75L349.09 498.75Z"/><path d="M359.1 494.2L362.3 499.75L355.9 499.75Z"/><path d="M365.9 493.2L369.1 498.75L362.7 498.75Z"/><path d="M372.71 493.2L375.91 498.75L369.51 498.75Z"/><path d="M379.51 492.7L382.71 498.25L376.31 498.25Z"/><path d="M386.31 492.2L389.51 497.75L383.12 497.75Z"/><path d="M393.12 491.2L396.32 496.75L389.92 496.75Z"/><path d="M399.93 494.2L403.12 499.75L396.73 499.75Z"/><path d="M406.73 494.2L409.93 499.75L403.53 499.75Z"/><path d="M413.54 496.7L416.74 502.25L410.34 502.25Z"/><path d="M420.34 496.2L423.54 501.75L417.14 501.75Z"/><path d="M427.14 496.2L430.34 501.75L423.94 501.75Z"/><path d="M433.95 495.2L437.15 500.75L430.75 500.75Z"/><path d="M440.75 495.2L443.95 500.75L437.56 500.75Z"/><path d="M447.56 495.3L450.76 500.85L444.36 500.85Z"/><path d="M454.37 493.7L457.56 499.25L451.17 499.25Z"/><path d="M461.17 493.2L464.37 498.75L457.97 498.75Z"/><path d="M467.98 495.1L471.18 500.65L464.78 500.65Z"/><path d="M474.78 496.1L477.98 501.65L471.58 501.65Z"/><path d="M481.59 496.1L484.79 501.65L478.39 501.65Z"/><path d="M488.39 496.1L491.59 501.65L485.19 501.65Z"/><path d="M495.19 496.1L498.39 501.65L492 501.65Z"/><path d="M502 495.5L505.2 501.05L498.8 501.05Z"/></g>
</g>
<g font-family="Liberation Sans" font-size="8.1" text-anchor="middle" fill="#000" stroke="#000" stroke-width="0.25"><text x="229.8" y="514">0</text><text x="257.02" y="514">200</text><text x="284.24" y="514">400</text><text x="311.46" y="514">600</text><text x="338.68" y="514">800</text><text x="365.9" y="514">1000</text><text x="393.12" y="514">1200</text><text x="420.34" y="514">1400</text><text x="447.56" y="514">1600</text><text x="474.78" y="514">1800</text><text x="502" y="514">2000</text></g>
<g font-family="Liberation Sans" font-size="8.1" text-anchor="end" fill="#000" stroke="#000" stroke-width="0.25"><text x="226.2" y="505.5">0</text><text x="226.2" y="484.07">0.02</text><text x="226.2" y="462.64">0.04</text><text x="226.2" y="441.21">0.06</text><text x="226.2" y="419.78">0.08</text><text x="226.2" y="398.35">0.1</text><text x="226.2" y="376.92">0.12</text><text x="226.2" y="355.49">0.14</text><text x="226.2" y="334.06">0.16</text><text x="226.2" y="312.63">0.18</text><text x="226.2" y="291.2">0.2</text></g>
<line x1="384.2" y1="302.2" x2="409.6" y2="302.2" stroke="#0000ff" stroke-width="1.25"/><g fill="none" stroke="#0000ff" stroke-width="1.6"><ellipse cx="396.95" cy="302.2" rx="2.55" ry="2.8"/></g><text x="410.84" y="306.4" font-family="Liberation Serif" font-size="11.6" fill="#000" stroke="#000" stroke-width="0.35">SG method</text><line x1="384.2" y1="316.3" x2="409.6" y2="316.3" stroke="#ff0000" stroke-width="1.25"/><g fill="none" stroke="#ff0000" stroke-width="1.6"><rect x="394.9" y="314.25" width="4.1" height="4.1"/></g><text x="410.84" y="320.5" font-family="Liberation Serif" font-size="11.6" fill="#000" stroke="#000" stroke-width="0.35">FOSG method</text><line x1="384.2" y1="330" x2="409.6" y2="330" stroke="#00ff00" stroke-width="1.25"/><g fill="none" stroke="#00ff00" stroke-width="1.45"><path d="M396.95 326.3L400.15 331.85L393.75 331.85Z"/></g><text x="410.84" y="334.2" font-family="Liberation Serif" font-size="11.6" fill="#000" stroke="#000" stroke-width="0.35">Proposed method</text>
<text x="365.6" y="527.6" font-family="Liberation Serif" font-size="11.79"  text-anchor="middle" fill="#000" stroke="#000" stroke-width="0.35">k</text>
<text transform="translate(200.7 395) rotate(-90)" font-family="Liberation Serif" font-style="italic" font-size="12.94" text-anchor="middle" fill="#000" stroke="#000" stroke-width="0.35" y="4.5">&#948;</text>
<text x="362.6" y="547.4" font-family="Liberation Serif" font-size="16.5" text-anchor="middle" fill="#000" stroke="#000" stroke-width="0.35">(c)</text></g></svg></body></html>
